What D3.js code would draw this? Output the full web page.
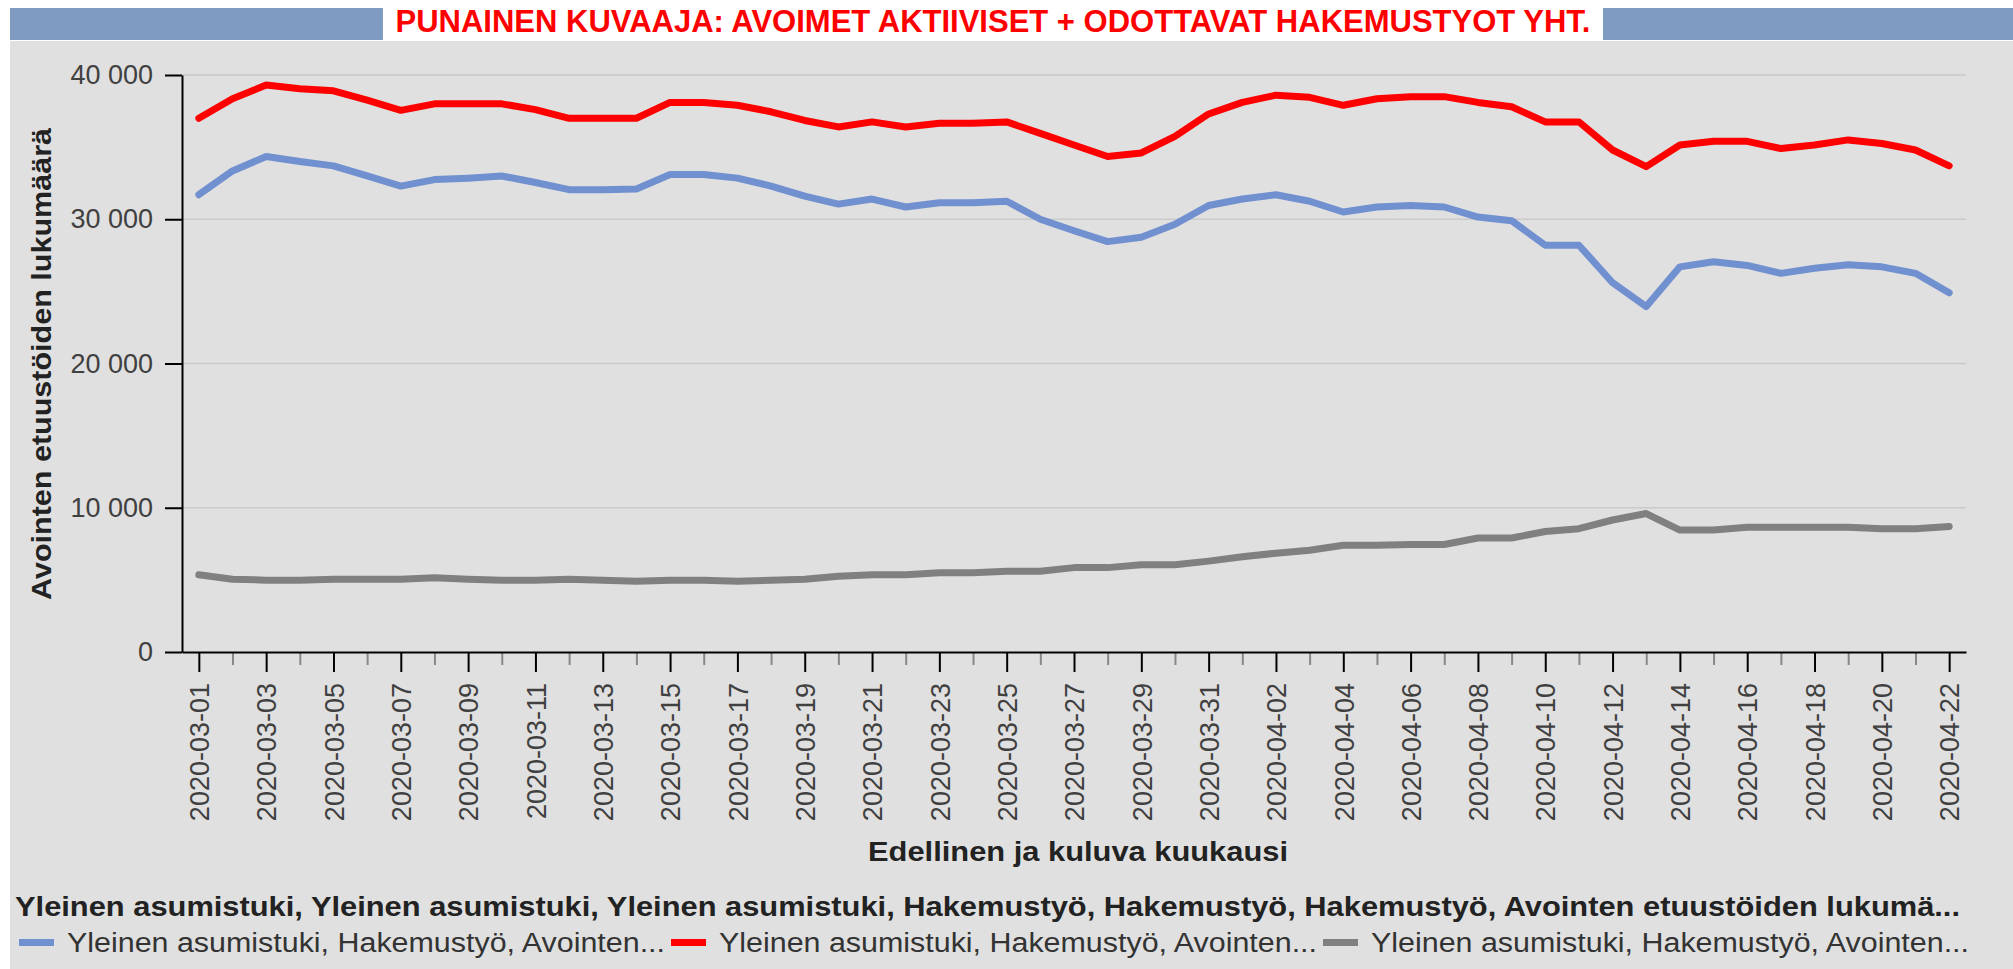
<!DOCTYPE html>
<html>
<head>
<meta charset="utf-8">
<title>Punainen kuvaaja</title>
<script src="https://cdn.jsdelivr.net/npm/d3@7"></script>
<style>
body { margin: 0; background: #ffffff; }
text { font-family: "Liberation Sans", Arial, sans-serif; }
.axis text { fill: #404040; font-size: 27px; }
.axis path, .axis line { stroke: #000; stroke-width: 2px; }
.minor line { stroke: #888; }
</style>
</head>
<body>
<div id="chart"></div>
<script>
var days = [
  "2020-03-01","2020-03-02","2020-03-03","2020-03-04","2020-03-05","2020-03-06","2020-03-07","2020-03-08",
  "2020-03-09","2020-03-10","2020-03-11","2020-03-12","2020-03-13","2020-03-14","2020-03-15","2020-03-16",
  "2020-03-17","2020-03-18","2020-03-19","2020-03-20","2020-03-21","2020-03-22","2020-03-23","2020-03-24",
  "2020-03-25","2020-03-26","2020-03-27","2020-03-28","2020-03-29","2020-03-30","2020-03-31","2020-04-01",
  "2020-04-02","2020-04-03","2020-04-04","2020-04-05","2020-04-06","2020-04-07","2020-04-08","2020-04-09",
  "2020-04-10","2020-04-11","2020-04-12","2020-04-13","2020-04-14","2020-04-15","2020-04-16","2020-04-17",
  "2020-04-18","2020-04-19","2020-04-20","2020-04-21","2020-04-22"];

var blueVals = [31700,33350,34350,34000,33700,33000,32300,32750,32850,33000,32550,32050,32050,32100,
  33100,33100,32850,32300,31600,31050,31400,30850,31150,31150,31250,30000,29200,28450,28750,29650,
  30950,31400,31700,31250,30500,30850,30950,30850,30150,29900,28200,28200,25600,23950,26700,27050,
  26800,26250,26600,26850,26700,26250,24900];

var redVals = [37000,38350,39300,39050,38900,38250,37550,38000,38000,38000,37600,37000,37000,37000,
  38100,38100,37900,37450,36850,36400,36750,36400,36650,36650,36750,35950,35150,34350,34600,35750,
  37300,38100,38600,38450,37900,38350,38500,38500,38100,37800,36750,36750,34800,33650,35150,35400,
  35400,34900,35150,35500,35250,34800,33700];

var grayVals = [5350,5050,4980,4980,5050,5050,5050,5150,5050,4980,4980,5050,4980,4900,4980,4980,
  4900,4980,5050,5250,5350,5350,5500,5500,5600,5600,5850,5850,6050,6050,6300,6600,6850,7050,7400,
  7400,7450,7450,7900,7900,8350,8550,9150,9600,8450,8450,8650,8650,8650,8650,8550,8550,8700];

var yTicks = [0, 10000, 20000, 30000, 40000];

var seriesNames = [
  "Yleinen asumistuki, Hakemustyö, Avointen...",
  "Yleinen asumistuki, Hakemustyö, Avointen...",
  "Yleinen asumistuki, Hakemustyö, Avointen..."];
var seriesColors = ["#7090d0", "#ff0000", "#808080"];

var title = "PUNAINEN KUVAAJA: AVOIMET AKTIIVISET + ODOTTAVAT HAKEMUSTYOT YHT.";
var yTitle = "Avointen etuustöiden lukumäärä";
var xTitle = "Edellinen ja kuluva kuukausi";
var legendTitle = "Yleinen asumistuki, Yleinen asumistuki, Yleinen asumistuki, Hakemustyö, Hakemustyö, Hakemustyö, Avointen etuustöiden lukumä...";

var W = 2013, H = 969;

var svg = d3.select("#chart").append("svg")
    .attr("width", W)
    .attr("height", H);

// backgrounds
svg.append("rect").attr("x", 10).attr("y", 41).attr("width", W - 10).attr("height", H - 41).attr("fill", "#e0e0e0");
svg.append("rect").attr("x", 10).attr("y", 8).attr("width", W - 10).attr("height", 32).attr("fill", "#809bc1");
svg.append("rect").attr("x", 383).attr("y", 0).attr("width", 1220).attr("height", 40).attr("fill", "#ffffff");

svg.append("text")
    .attr("x", 993).attr("y", 32)
    .attr("text-anchor", "middle")
    .attr("fill", "#ff0000")
    .style("font-size", "31px")
    .style("font-weight", "bold")
    .text(title);

var x = d3.scalePoint()
    .domain(days)
    .range([182, 1966])
    .padding(0.5);

var y = d3.scaleLinear()
    .domain([0, 40000])
    .range([652, 75]);

var fi = d3.formatLocale({ decimal: ",", thousands: " ", grouping: [3], currency: ["", ""] });
var fmt = fi.format(",");

// gridlines
svg.append("g").selectAll("line")
    .data(yTicks.slice(1))
  .enter().append("line")
    .attr("x1", 182).attr("x2", 1966)
    .attr("y1", d => y(d)).attr("y2", d => y(d))
    .attr("stroke", "#cacaca")
    .attr("stroke-width", 1.5);

// y axis
svg.append("g")
    .attr("class", "axis")
    .attr("transform", "translate(182,0)")
    .call(d3.axisLeft(y).tickValues(yTicks).tickFormat(fmt).tickSize(17).tickSizeOuter(0).tickPadding(12));

// x axis: minor then major
var minorDays = days.filter((d, i) => i % 2 == 1),
    majorDays = days.filter((d, i) => i % 2 == 0);

svg.append("g")
    .attr("class", "axis minor")
    .attr("transform", "translate(0,652)")
    .call(d3.axisBottom(x).tickValues(minorDays).tickFormat("").tickSize(13).tickSizeOuter(0))
    .select(".domain").remove();

var xg = svg.append("g")
    .attr("class", "axis")
    .attr("transform", "translate(0,652)")
    .call(d3.axisBottom(x).tickValues(majorDays).tickSize(20).tickSizeOuter(0));

xg.selectAll("text")
    .attr("transform", "rotate(-90)")
    .attr("text-anchor", "end")
    .attr("x", -31)
    .attr("y", 0)
    .attr("dy", "0.36em");

// lines
var line = d3.line()
    .x((d, i) => x(days[i]))
    .y(d => y(d));

[blueVals, redVals, grayVals].forEach(function(vals, k) {
    svg.append("path")
        .datum(vals)
        .attr("d", line)
        .attr("fill", "none")
        .attr("stroke", seriesColors[k])
        .attr("stroke-width", 7)
        .attr("stroke-linejoin", "round")
        .attr("stroke-linecap", "round");
});

// axis titles
svg.append("text")
    .attr("transform", "translate(51,364) rotate(-90)")
    .attr("text-anchor", "middle")
    .attr("fill", "#222")
    .style("font-size", "28px")
    .style("font-weight", "bold")
    .attr("textLength", 472)
    .attr("lengthAdjust", "spacingAndGlyphs")
    .text(yTitle);

svg.append("text")
    .attr("x", 1078).attr("y", 861)
    .attr("text-anchor", "middle")
    .attr("fill", "#222")
    .style("font-size", "27px")
    .style("font-weight", "bold")
    .attr("textLength", 420)
    .attr("lengthAdjust", "spacingAndGlyphs")
    .text(xTitle);

// legend
svg.append("text")
    .attr("x", 15).attr("y", 916)
    .attr("fill", "#222")
    .style("font-size", "27px")
    .style("font-weight", "bold")
    .attr("textLength", 1945)
    .attr("lengthAdjust", "spacingAndGlyphs")
    .text(legendTitle);

var items = svg.append("g").selectAll("g")
    .data(seriesNames)
  .enter().append("g")
    .attr("transform", (d, i) => "translate(" + (19 + i * 652) + ",0)");

items.append("rect")
    .attr("x", 0).attr("y", 939)
    .attr("width", 35).attr("height", 7)
    .attr("fill", (d, i) => seriesColors[i]);

items.append("text")
    .attr("x", 48).attr("y", 952)
    .attr("fill", "#333")
    .style("font-size", "27px")
    .attr("textLength", 598)
    .attr("lengthAdjust", "spacingAndGlyphs")
    .text(d => d);
</script>
</body>
</html>
